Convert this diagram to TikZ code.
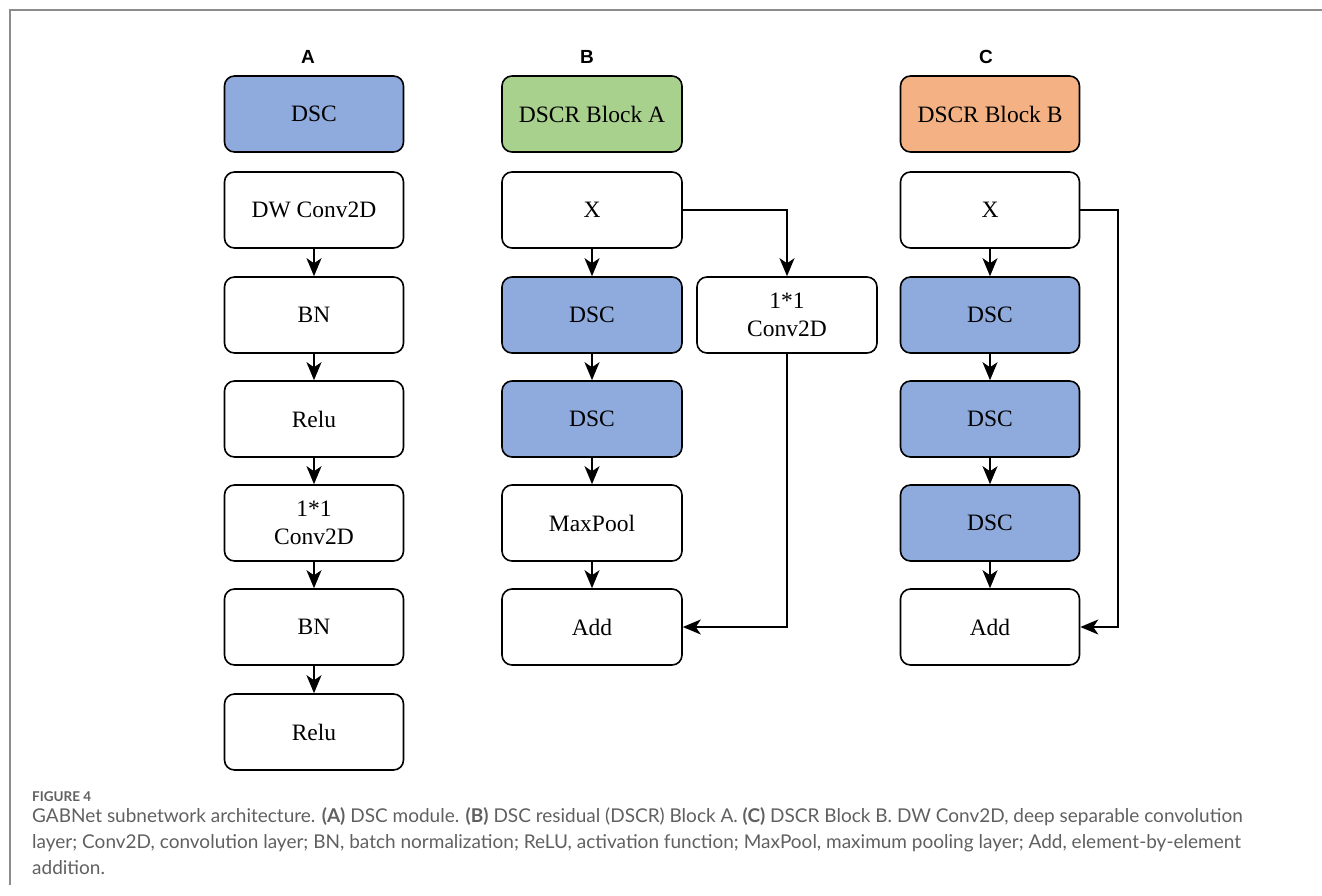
\documentclass[tikz,border=0pt]{standalone}
\usepackage{fontspec}
\setmainfont{Liberation Serif}
\newfontfamily\labfont{Liberation Sans}
\newfontfamily\capfont{Lato}
\usetikzlibrary{arrows.meta}
\definecolor{dscblue}{HTML}{8FAADC}
\definecolor{blkgreen}{HTML}{A9D18E}
\definecolor{blkorange}{HTML}{F4B183}
\definecolor{framegray}{HTML}{8C8C8C}
\definecolor{capgray}{HTML}{606060}
\tikzset{
  box/.style={draw=black, line width=1.6pt, rounded corners=10pt, minimum width=179pt, minimum height=76pt, inner sep=0pt, align=center, font=\fontsize{23.5}{28}\selectfont},
  bluebox/.style={box, fill=dscblue},
  arr/.style={line width=1.4pt, -{Stealth[length=18pt,width=15pt,inset=5pt]}},
  lab/.style={font=\labfont\bfseries\fontsize{19}{22}\selectfont},
}
\begin{document}
\begin{tikzpicture}[x=1pt,y=-1pt]
\useasboundingbox (0,0) rectangle (1322,896);
\draw[framegray, line width=2pt] (1322,10) -- (10,10) -- (10,885);
% labels
\node[lab] (la) at (308,57) {A};
\node[lab] (lb) at (587,57) {B};
\node[lab] (lc) at (986,57) {C};
% column A
\node[bluebox] (a0) at (314,114) {DSC};
\node[box] (a1) at (314,210) {DW Conv2D};
\node[box] (a2) at (314,315) {BN};
\node[box] (a3) at (314,419) {Relu};
\node[box] (a4) at (314,523) {1*1\\Conv2D};
\node[box] (a5) at (314,627) {BN};
\node[box] (a6) at (314,732) {Relu};
\draw[arr] (a1) -- (a2);
\draw[arr] (a2) -- (a3);
\draw[arr] (a3) -- (a4);
\draw[arr] (a4) -- (a5);
\draw[arr] (a5) -- (a6);
% column B
\node[box, fill=blkgreen, minimum width=180pt] (b0) at (592,114) {DSCR Block A};
\node[box, minimum width=180pt] (b1) at (592,210) {X};
\node[bluebox, minimum width=180pt] (b2) at (592,315) {DSC};
\node[bluebox, minimum width=180pt] (b3) at (592,419) {DSC};
\node[box, minimum width=180pt] (b4) at (592,523) {MaxPool};
\node[box, minimum width=180pt] (b5) at (592,627) {Add};
\node[box, minimum width=180pt] (bc) at (787,315) {1*1\\Conv2D};
\draw[arr] (b1) -- (b2);
\draw[arr] (b2) -- (b3);
\draw[arr] (b3) -- (b4);
\draw[arr] (b4) -- (b5);
\draw[arr] (b1.east) -| (bc.north);
\draw[arr] (bc.south) |- (b5.east);
% column C
\node[box, fill=blkorange] (c0) at (990,114) {DSCR Block B};
\node[box] (c1) at (990,210) {X};
\node[bluebox] (c2) at (990,315) {DSC};
\node[bluebox] (c3) at (990,419) {DSC};
\node[bluebox] (c4) at (990,523) {DSC};
\node[box] (c5) at (990,627) {Add};
\coordinate (cr) at (1118,210);
\draw[arr] (c1) -- (c2);
\draw[arr] (c2) -- (c3);
\draw[arr] (c3) -- (c4);
\draw[arr] (c4) -- (c5);
\draw[arr] (c1.east) -- (cr) |- (c5.east);
% caption
\node[anchor=west, text=capgray, font=\capfont\bfseries\fontsize{13.5}{16}\selectfont, inner sep=0pt] (fig) at (32,797) {FIGURE 4};
\node[anchor=north west, text=capgray, align=left, inner sep=0pt, font=\capfont\fontsize{19}{26}\selectfont] (cap) at (32,807) {GABNet subnetwork architecture. \textbf{(A)} DSC module. \textbf{(B)} DSC residual (DSCR) Block A. \textbf{(C)} DSCR Block B. DW Conv2D, deep separable convolution\\layer; Conv2D, convolution layer; BN, batch normalization; ReLU, activation function; MaxPool, maximum pooling layer; Add, element-by-element\\addition.};
\end{tikzpicture}
\end{document}
